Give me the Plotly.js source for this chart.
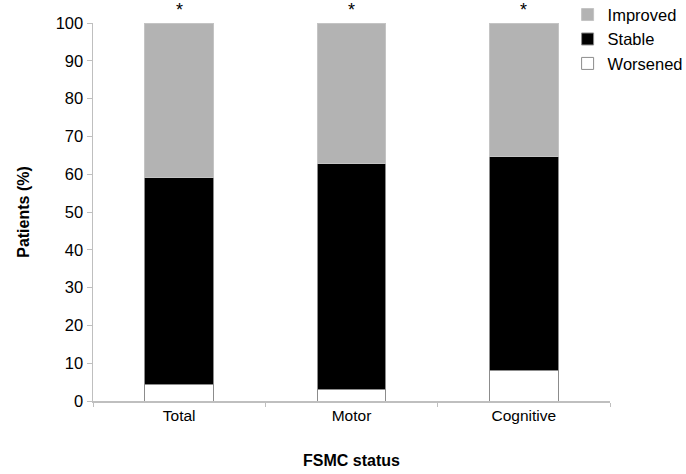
<!DOCTYPE html>
<html>
<head>
<meta charset="utf-8">
<script src="https://cdn.plot.ly/plotly-3.0.1.min.js"></script>
<style>
  html, body { margin: 0; padding: 0; background: #fff; }
  #chart { width: 686px; height: 474px; }
</style>
</head>
<body>
<div id="chart"></div>
<script>
var categories = ['Total', 'Motor', 'Cognitive'];
var worsened = [4.4, 3.1, 8.1];
var stable = [54.8, 59.8, 56.5];
var improved = [40.8, 37.1, 35.4];
var marks = ['*', '*', '*'];

var font = 'Liberation Sans, Arial, sans-serif';
var edge = {color: '#8c8c8c', width: 1};

var data = [
    {x: categories, y: worsened, name: 'Worsened', type: 'bar',
     marker: {color: '#ffffff', line: edge}},
    {x: categories, y: stable, name: 'Stable', type: 'bar',
     marker: {color: '#000000', line: edge}},
    {x: categories, y: improved, name: 'Improved', type: 'bar',
     marker: {color: '#b3b3b3', line: {color: '#c4c4c4', width: 1}}}
];

var notes = categories.map(function(c, i) {
    return {x: c, y: 100, text: marks[i], showarrow: false,
            yanchor: 'bottom', yshift: 1, font: {family: font, size: 18, color: '#000'}};
});

var layout = {
    width: 686, height: 474,
    margin: {l: 93, r: 76, t: 23, b: 73, autoexpand: false},
    paper_bgcolor: '#fff', plot_bgcolor: '#fff',
    barmode: 'stack',
    bargap: 0.6,
    font: {family: font, size: 16, color: '#000'},
    xaxis: {
        showline: true, linecolor: '#bfbfbf', linewidth: 1.5,
        ticks: 'outside', tickson: 'boundaries', ticklen: 4, tickcolor: '#bfbfbf',
        tickfont: {size: 15.5},
        title: {text: '<b>FSMC status</b>', font: {size: 16}, standoff: 31}
    },
    yaxis: {
        range: [0, 100], dtick: 10,
        showline: true, linecolor: '#bfbfbf', linewidth: 1.5,
        ticks: 'outside', ticklen: 5, tickcolor: '#bfbfbf',
        showgrid: false, zeroline: false,
        tickfont: {size: 16.5},
        title: {text: '<b>Patients (%)</b>', font: {size: 16}, standoff: 22}
    },
    legend: {
        x: 0.918, xanchor: 'left', y: 1.068, yanchor: 'top',
        traceorder: 'reversed', font: {size: 16.5},
        itemwidth: 30, tracegroupgap: 0, bgcolor: 'rgba(0,0,0,0)'
    },
    annotations: notes,
    showlegend: true
};

Plotly.newPlot('chart', data, layout, {displayModeBar: false, staticPlot: true});
</script>
</body>
</html>
